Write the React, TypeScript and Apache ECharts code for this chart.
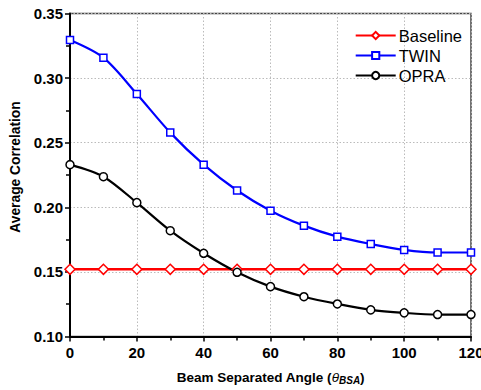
import React, { useEffect, useRef } from "react";
import * as echarts from "echarts";

const angles = [0, 10, 20, 30, 40, 50, 60, 70, 80, 90, 100, 110, 120];
const baseline = [0.152, 0.152, 0.152, 0.152, 0.152, 0.152, 0.152, 0.152, 0.152, 0.152, 0.152, 0.152, 0.152];
const twin = [0.3295, 0.3158, 0.2877, 0.2578, 0.233, 0.213, 0.1974, 0.1858, 0.1773, 0.1716, 0.167, 0.165, 0.165];
const opra = [0.233, 0.2237, 0.2036, 0.1819, 0.1644, 0.1497, 0.1386, 0.1308, 0.1252, 0.1206, 0.1183, 0.117, 0.117];
const seriesNames = ["Baseline", "TWIN", "OPRA"];
const yTitle = "Average Correlation";

const FONT = "Liberation Sans, Arial, sans-serif";

export default function App() {
  const ref = useRef<HTMLDivElement>(null);
  useEffect(() => {
    const chart = echarts.init(ref.current!, null, { renderer: "svg" });
    const mk = (name: string, data: number[], color: string, symbol: string, width: number, size: number) => ({
      name,
      type: "line",
      data: angles.map((a, i) => [a, data[i]]),
      smooth: 0.3,
      symbol,
      symbolSize: size,
      showSymbol: true,
      lineStyle: { color, width },
      itemStyle: { color: "#fff", borderColor: color, borderWidth: 1.5 },
      z: 3,
    });
    chart.setOption({
      animation: false,
      backgroundColor: "#fff",
      grid: {
        left: 70,
        right: 10,
        top: 13.5,
        bottom: 53.5,
        containLabel: false,
        outerBoundsMode: "none",
        show: true,
        borderColor: "#444",
        borderWidth: 1.5,
        backgroundColor: "transparent",
      },
      legend: {
        top: 22,
        right: 14,
        orient: "vertical",
        itemWidth: 40,
        itemHeight: 9,
        itemGap: 3,
        textStyle: { fontFamily: FONT, fontSize: 16.5, lineHeight: 17, color: "#000", padding: [0, 0, 0, -2] },
        data: seriesNames,
      },
      graphic: [
        {
          type: "text",
          x: 15,
          y: 167,
          rotation: Math.PI / 2,
          style: {
            text: yTitle,
            fontFamily: FONT,
            fontSize: 13.8,
            fontWeight: "bold",
            fill: "#000",
            align: "center",
            verticalAlign: "middle",
          },
        },
      ],
      xAxis: {
        type: "value",
        min: 0,
        max: 120,
        interval: 20,
        name: "{a|Beam Separated Angle (}{t|θ}{s|BSA}{a|)}",
        nameLocation: "middle",
        nameGap: 33,
        nameTextStyle: {
          rich: {
            a: { fontFamily: FONT, fontSize: 13.5, fontWeight: "bold", color: "#000" },
            t: { fontFamily: FONT, fontSize: 13.5, fontStyle: "italic", color: "#000" },
            s: { fontFamily: FONT, fontSize: 10, fontWeight: "bold", fontStyle: "italic", color: "#000", verticalAlign: "bottom", padding: [6, 0, 0, 0] },
          },
        },
        axisLine: { show: true, lineStyle: { color: "#000", width: 2 } },
        axisTick: { show: true, inside: false, length: 5, lineStyle: { color: "#000", width: 1.5 } },
        minorTick: { show: true, splitNumber: 2, length: 4, lineStyle: { color: "#000", width: 1.5 } },
        axisLabel: { fontFamily: FONT, fontSize: 15, fontWeight: "bold", color: "#000", margin: 8 },
        splitLine: { show: true, lineStyle: { color: "#bbb", type: [1.5, 2], width: 1 } },
      },
      yAxis: {
        type: "value",
        min: 0.1,
        max: 0.35,
        interval: 0.05,
        axisLine: { show: true, lineStyle: { color: "#000", width: 2 } },
        axisTick: { show: true, inside: false, length: 5, lineStyle: { color: "#000", width: 1.5 } },
        minorTick: { show: true, splitNumber: 2, length: 4, lineStyle: { color: "#000", width: 1.5 } },
        axisLabel: {
          fontFamily: FONT,
          fontSize: 15,
          fontWeight: "bold",
          color: "#000",
          margin: 7,
          formatter: (v: number) => v.toFixed(2),
        },
        splitLine: { show: true, lineStyle: { color: "#bbb", type: [1.5, 2], width: 1 } },
      },
      series: [
        mk("Baseline", baseline, "#ff0000", "diamond", 2.5, 10),
        mk("TWIN", twin, "#0000ff", "rect", 2.2, 7),
        mk("OPRA", opra, "#000000", "circle", 2.2, 8),
      ],
    });
    return () => chart.dispose();
  }, []);
  return <div ref={ref} style={{ width: 481, height: 390, position: "absolute", left: 0, top: 0 }} />;
}
